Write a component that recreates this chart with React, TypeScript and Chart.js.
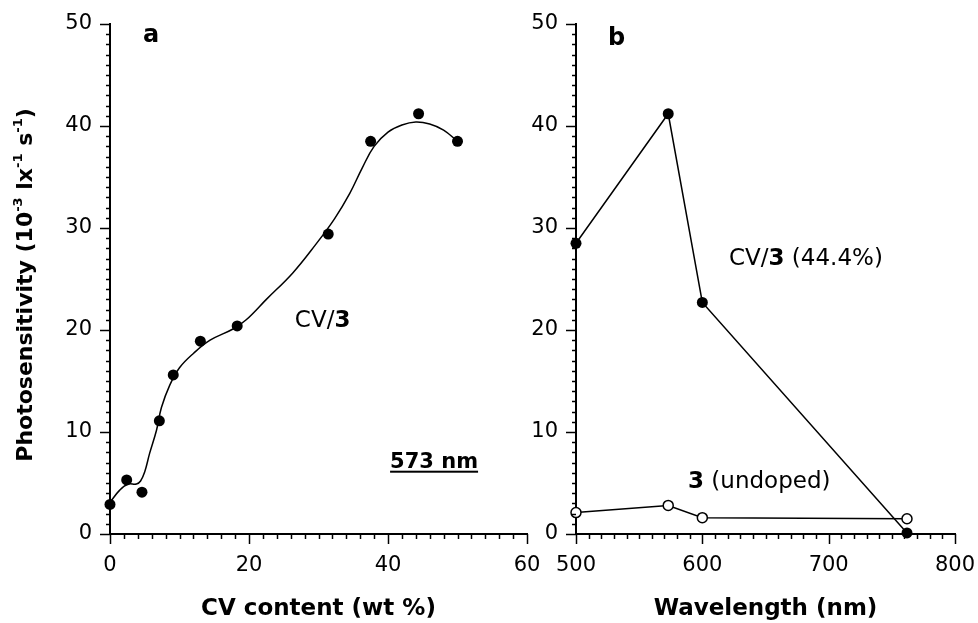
import React, { useEffect, useRef } from "react";
import { Chart, registerables } from "chart.js";

Chart.register(...registerables);

const FONT = "'DejaVu Sans', sans-serif";

// ---- Panel a: photosensitivity vs CV content (573 nm) ----
const cvContent = [0, 2.4, 4.6, 7.1, 9.1, 13.0, 18.3, 31.4, 37.5, 44.4, 50.0];
const photoVsContent = [2.9, 5.3, 4.1, 11.1, 15.6, 18.9, 20.4, 29.4, 38.5, 41.2, 38.5];

// fitted curve
const fitContent = [0, 1.4, 2.6, 3.8, 4.4, 5.0, 5.7, 6.7, 7.4, 8.6, 10.0, 12.0, 14.4, 17.7, 19.6, 22.5, 26.3, 29.5, 32.3, 34.5, 36.3, 38.0, 40.0, 42.0, 44.0, 46.0, 48.0, 50.0];
const fitPhoto = [3.1, 4.3, 4.9, 4.9, 5.2, 6.1, 7.9, 10.2, 12.4, 14.6, 16.3, 17.7, 19.0, 20.1, 21.0, 23.0, 25.6, 28.3, 30.9, 33.4, 35.9, 38.0, 39.4, 40.1, 40.4, 40.2, 39.6, 38.5];

// ---- Panel b: photosensitivity vs wavelength ----
const wavelengths = [500, 573, 600, 762];
const photoDoped = [28.5, 41.2, 22.7, 0.1];
const photoUndoped = [2.1, 2.8, 1.6, 1.5];

// ---- axis ticks ----
const contentTicks = { min: 0, max: 60, major: 20, minor: 2 };
const waveTicks = { min: 500, max: 800, major: 100, minor: 10 };
const photoTicks = { min: 0, max: 50, major: 10, minor: 1 };

const W = 978;
const H = 623;

const tickMarks = {
  id: "tickMarks",
  afterDraw(chart: any, _args: any, opts: any) {
    const { ctx, chartArea } = chart;
    ctx.save();
    ctx.strokeStyle = "#000";
    ctx.lineWidth = 1.5;
    const xs = chart.scales.x;
    const ys = chart.scales.y;
    const xt = opts.x;
    const yt = opts.y;
    const nx = Math.round((xt.max - xt.min) / xt.minor);
    const rx = Math.round(xt.major / xt.minor);
    for (let i = 0; i <= nx; i++) {
      const v = xt.min + i * xt.minor;
      const px = Math.round(xs.getPixelForValue(v)) + 0.5;
      const len = i % rx === 0 ? 10 : 5;
      ctx.beginPath();
      ctx.moveTo(px, chartArea.bottom);
      ctx.lineTo(px, chartArea.bottom + len);
      ctx.stroke();
    }
    const ny = Math.round((yt.max - yt.min) / yt.minor);
    const ry = Math.round(yt.major / yt.minor);
    for (let i = 0; i <= ny; i++) {
      const v = yt.min + i * yt.minor;
      const py = Math.round(ys.getPixelForValue(v)) + 0.5;
      const len = i % ry === 0 ? 10 : 4;
      ctx.beginPath();
      ctx.moveTo(chartArea.left, py);
      ctx.lineTo(chartArea.left - len, py);
      ctx.stroke();
    }
    ctx.restore();
  },
};

const annotations = {
  id: "annotations",
  afterDraw(chart: any, _args: any, opts: any) {
    const { ctx } = chart;
    const items = opts.items || [];
    ctx.save();
    ctx.fillStyle = "#000";
    ctx.textBaseline = "alphabetic";
    ctx.textAlign = "left";
    for (const it of items) {
      let px = chart.scales.x.getPixelForValue(it.x);
      const py = chart.scales.y.getPixelForValue(it.y);
      const start = px;
      for (const p of it.parts) {
        ctx.font = `${p.bold ? "bold " : ""}${it.size}px ${FONT}`;
        ctx.fillText(p.text, px, py);
        px += ctx.measureText(p.text).width;
      }
      if (it.underline) ctx.fillRect(start, py + 3, px - start, 2);
    }
    ctx.restore();
  },
};

const yTitle = {
  id: "yTitle",
  afterDraw(chart: any, _args: any, opts: any) {
    if (!opts || !opts.parts) return;
    const { ctx, chartArea } = chart;
    ctx.save();
    ctx.fillStyle = "#000";
    ctx.textBaseline = "alphabetic";
    ctx.textAlign = "left";
    const fontOf = (p: any) => `bold ${p.sup ? 13 : 22}px ${FONT}`;
    let total = 0;
    for (const p of opts.parts) {
      ctx.font = fontOf(p);
      total += ctx.measureText(p.text).width;
    }
    const cx = chartArea.left - 78;
    const cy = (chartArea.top + chartArea.bottom) / 2 + 6;
    ctx.translate(cx, cy);
    ctx.rotate(-Math.PI / 2);
    let x = -total / 2;
    for (const p of opts.parts) {
      ctx.font = fontOf(p);
      ctx.fillText(p.text, x, p.sup ? -10 : 0);
      x += ctx.measureText(p.text).width;
    }
    ctx.restore();
  },
};

function axisX(t: any, title: string, height: number) {
  return {
    type: "linear",
    min: t.min,
    max: t.max,
    afterFit: (s: any) => {
      s.height = height;
      s.paddingLeft = 0;
      s.paddingRight = 0;
    },
    grid: { display: false, drawTicks: false },
    border: { display: true, color: "#000", width: 2 },
    ticks: {
      stepSize: t.major,
      padding: 19,
      color: "#000",
      maxRotation: 0,
      autoSkip: false,
      font: { size: 21, family: FONT },
    },
    title: {
      display: true,
      text: title,
      color: "#000",
      padding: 0,
      font: { size: 23, weight: "bold", family: FONT },
    },
  };
}

function axisY(t: any, width: number) {
  return {
    type: "linear",
    min: t.min,
    max: t.max,
    afterFit: (s: any) => {
      s.width = width;
      s.paddingTop = 0;
      s.paddingBottom = 0;
    },
    grid: { display: false, drawTicks: false },
    border: { display: true, color: "#000", width: 2 },
    ticks: {
      stepSize: t.major,
      padding: 18,
      color: "#000",
      font: { size: 21, family: FONT },
    },
  };
}

function configA(): any {
  return {
    type: "scatter",
    data: {
      datasets: [
        {
          data: cvContent.map((x, i) => ({ x, y: photoVsContent[i] })),
          showLine: false,
          pointRadius: 5.5,
          pointBackgroundColor: "#000",
          pointBorderColor: "#000",
          pointBorderWidth: 0,
          clip: false,
        },
        {
          data: fitContent.map((x, i) => ({ x, y: fitPhoto[i] })),
          showLine: true,
          pointRadius: 0,
          borderColor: "#000",
          borderWidth: 1.5,
          tension: 0.4,
          clip: false,
        },
      ],
    },
    options: {
      responsive: false,
      animation: false,
      devicePixelRatio: 1,
      layout: { padding: { left: 0, top: 24, right: 451, bottom: 0 } },
      plugins: {
        legend: { display: false },
        tooltip: { enabled: false },
        tickMarks: { x: contentTicks, y: photoTicks },
        annotations: {
          items: [
            { x: 4.75, y: 48.2, size: 24, parts: [{ text: "a", bold: true }] },
            { x: 26.6, y: 20.3, size: 23, parts: [{ text: "CV/" }, { text: "3", bold: true }] },
            { x: 40.3, y: 6.5, size: 21, underline: true, parts: [{ text: "573 nm", bold: true }] },
          ],
        },
        yTitle: {
          parts: [
            { text: "Photosensitivity (10" },
            { text: "-3", sup: true },
            { text: " lx" },
            { text: "-1", sup: true },
            { text: " s" },
            { text: "-1", sup: true },
            { text: ")" },
          ],
        },
      },
      scales: {
        x: axisX(contentTicks, "CV content (wt %)", 89),
        y: axisY(photoTicks, 110),
      },
    },
    plugins: [tickMarks, annotations, yTitle],
  };
}

function configB(): any {
  return {
    type: "scatter",
    data: {
      datasets: [
        {
          data: wavelengths.map((x, i) => ({ x, y: photoUndoped[i] })),
          showLine: true,
          borderColor: "#000",
          borderWidth: 1.5,
          pointRadius: 5,
          pointBackgroundColor: "#fff",
          pointBorderColor: "#000",
          pointBorderWidth: 1.5,
          clip: false,
        },
        {
          data: wavelengths.map((x, i) => ({ x, y: photoDoped[i] })),
          showLine: true,
          borderColor: "#000",
          borderWidth: 1.5,
          pointRadius: 5.5,
          pointBackgroundColor: "#000",
          pointBorderColor: "#000",
          pointBorderWidth: 0,
          clip: false,
        },
      ],
    },
    options: {
      responsive: false,
      animation: false,
      devicePixelRatio: 1,
      layout: { padding: { left: 526, top: 24, right: 23, bottom: 0 } },
      plugins: {
        legend: { display: false },
        tooltip: { enabled: false },
        tickMarks: { x: waveTicks, y: photoTicks },
        annotations: {
          items: [
            { x: 525.3, y: 47.9, size: 24, parts: [{ text: "b", bold: true }] },
            {
              x: 621.1,
              y: 26.4,
              size: 23,
              parts: [{ text: "CV/" }, { text: "3", bold: true }, { text: " (44.4%)" }],
            },
            { x: 588.7, y: 4.5, size: 23, parts: [{ text: "3", bold: true }, { text: " (undoped)" }] },
          ],
        },
      },
      scales: {
        x: axisX(waveTicks, "Wavelength (nm)", 89),
        y: axisY(photoTicks, 50),
      },
    },
    plugins: [tickMarks, annotations],
  };
}

function Panel({ make }: { make: () => any }) {
  const ref = useRef<HTMLCanvasElement | null>(null);
  useEffect(() => {
    if (!ref.current) return;
    const chart = new Chart(ref.current, make());
    return () => chart.destroy();
  }, [make]);
  return (
    <canvas
      ref={ref}
      width={W}
      height={H}
      style={{ position: "absolute", left: 0, top: 0, width: W, height: H }}
    />
  );
}

export default function App() {
  return (
    <div
      style={{
        position: "fixed",
        left: 0,
        top: 0,
        width: W,
        height: H,
        background: "#fff",
      }}
    >
      <Panel make={configA} />
      <Panel make={configB} />
    </div>
  );
}
